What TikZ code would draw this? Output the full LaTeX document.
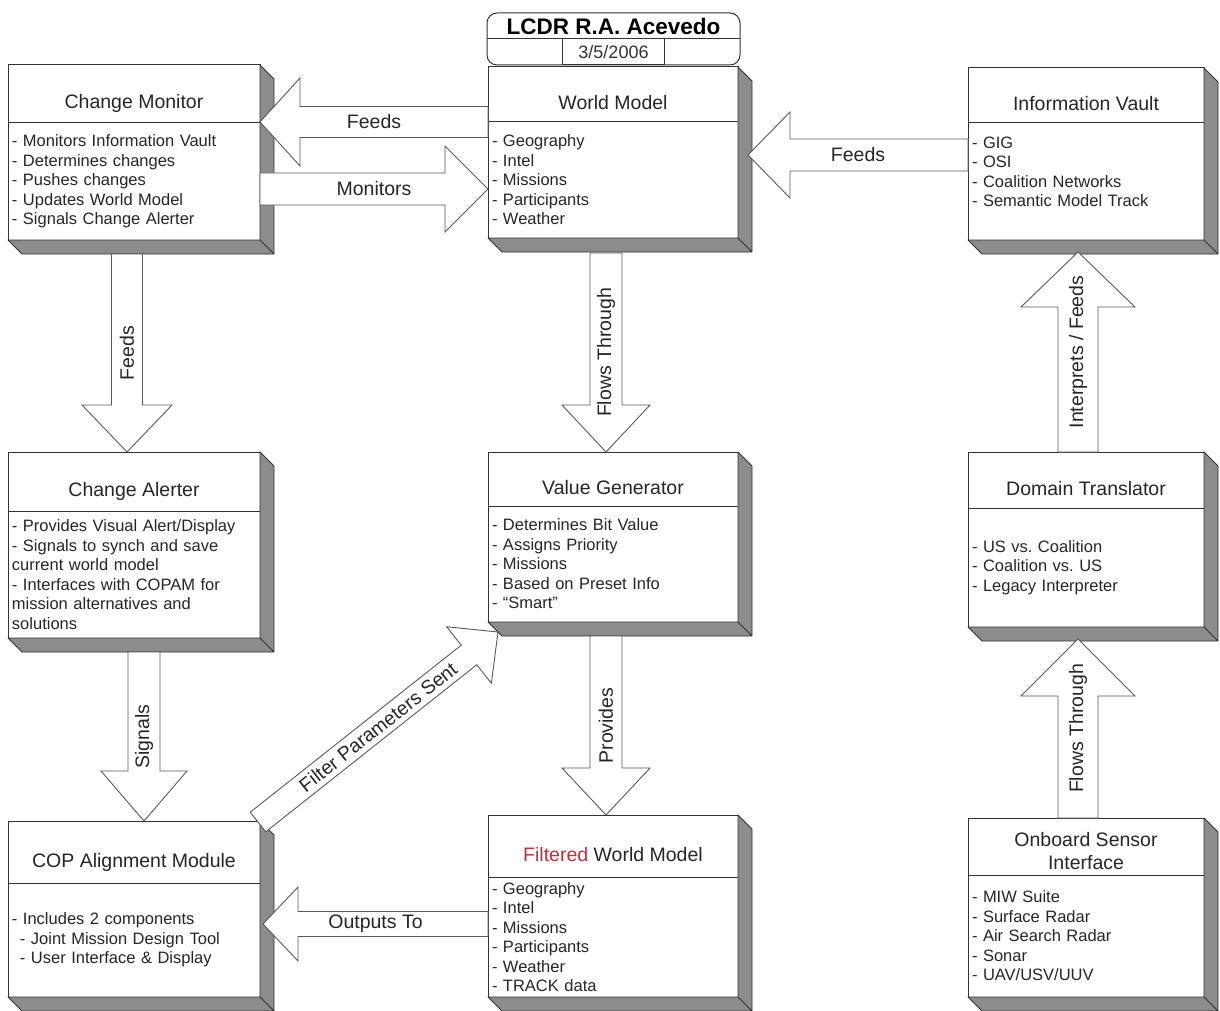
\documentclass[tikz,border=0pt]{standalone}
\usepackage{fontspec}
\setmainfont{Liberation Sans}
\usetikzlibrary{positioning,calc}
\definecolor{filtred}{RGB}{200,45,55}
\frenchspacing

\begin{document}
\begin{tikzpicture}[x=1pt,y=-1pt,
    head/.style={draw=black!80, fill=white, line width=1pt, anchor=north west, outer sep=0pt,
      inner sep=2pt, align=center, text height=30pt, text depth=0pt,
      font=\fontsize{19.5}{23}\selectfont, text=black!85},
    list/.style={draw=black!80, fill=white, line width=1pt, outer sep=0pt, inner xsep=4pt,
      inner ysep=0pt, align=left, font=\fontsize{16.5}{19.5}\selectfont, text=black!85},
    slab/.style={fill=black!45, draw=black!80, line width=0.8pt, line join=round},
    lbl/.style={font=\fontsize{19.5}{23}\selectfont, text=black!85, inner sep=0pt},
    fat/.style args={#1/#2/#3}{draw=black!65, fill=white, line width=0.9pt,
      to path={let \p1=(\tikztostart), \p2=(\tikztotarget), \n1={atan2(\y2-\y1,\x2-\x1)} in
        ($(\p1)+({\n1+90}:#1)$) -- ($(\p2)+({\n1+180}:#3)+({\n1+90}:#1)$)
        -- ($(\p2)+({\n1+180}:#3)+({\n1+90}:#2)$) -- (\p2)
        -- ($(\p2)+({\n1+180}:#3)+({\n1-90}:#2)$) -- ($(\p2)+({\n1+180}:#3)+({\n1-90}:#1)$)
        -- ($(\p1)+({\n1-90}:#1)$) -- cycle
        ($(\p1)!.5!(\p2)$) -- ($(\p1)!.5!(\p2)$) \tikztonodes}}
  ]
  \useasboundingbox[fill=white] (0,0) rectangle (1220,1011);

  \node[draw=black!80, line width=1pt, rounded corners=10pt, minimum width=253pt, minimum height=52pt,
    anchor=north west, outer sep=0pt] (stamp) at (487,13) {};
  \node[draw=black!80, line width=1pt, minimum width=102pt, minimum height=26pt, anchor=south,
    outer sep=0pt, font=\fontsize{18}{20}\selectfont, text=black!80] (date) at (stamp.south) {3/5/2006};
  \draw[black!80, line width=1pt] (stamp.west |- date.north) -- (stamp.east |- date.north);
  \node[font=\fontsize{22.5}{26}\selectfont\bfseries] (author) at ($(stamp.north)+(0,13.5)$) {LCDR R.A. Acevedo};

  \node[head, minimum width=252pt, minimum height=58pt] (cm) at (8,65) {Change Monitor};
  \node[list, below=0pt of cm, text width=244pt, minimum height=117pt] (cm-list)
    {- Monitors Information Vault\\- Determines changes\\- Pushes changes\\- Updates World Model\\- Signals Change Alerter};
  \node[head, minimum width=250pt, minimum height=55pt] (wm) at (488,67) {World Model};
  \node[list, below=0pt of wm, text width=242pt, minimum height=116pt] (wm-list)
    {- Geography\\- Intel\\- Missions\\- Participants\\- Weather};
  \node[head, minimum width=236pt, minimum height=55pt] (iv) at (968,68) {Information Vault};
  \node[list, below=0pt of iv, text width=228pt, minimum height=117pt] (iv-list)
    {- GIG\\- OSI\\- Coalition Networks\\- Semantic Model Track\\\mbox{}};

  \node[head, minimum width=252pt, minimum height=59pt] (ca) at (8,452) {Change Alerter};
  \node[list, below=0pt of ca, text width=244pt, minimum height=127pt] (ca-list)
    {- Provides Visual Alert/Display\\- Signals to synch and save\\current world model\\- Interfaces with COPAM for\\mission alternatives and\\solutions};
  \node[head, minimum width=250pt, minimum height=54pt] (vg) at (488,452) {Value Generator};
  \node[list, below=0pt of vg, text width=242pt, minimum height=116pt] (vg-list)
    {- Determines Bit Value\\- Assigns Priority\\- Missions\\- Based on Preset Info\\- “Smart”};
  \node[head, minimum width=236pt, minimum height=56pt] (dt) at (968,452) {Domain Translator};
  \node[list, below=0pt of dt, text width=228pt, minimum height=119pt] (dt-list)
    {- US vs. Coalition\\- Coalition vs. US\\- Legacy Interpreter};

  \node[head, minimum width=252pt, minimum height=62pt] (cop) at (8,821) {COP Alignment Module};
  \node[list, below=0pt of cop, text width=244pt, minimum height=114pt] (cop-list)
    {- Includes 2 components\\\hspace*{8pt}- Joint Mission Design Tool\\\hspace*{8pt}- User Interface \& Display};
  \node[head, minimum width=250pt, minimum height=62pt] (fwm) at (488,815) {\textcolor{filtred}{Filtered} World Model};
  \node[list, below=0pt of fwm, text width=242pt, minimum height=120pt] (fwm-list)
    {- Geography\\- Intel\\- Missions\\- Participants\\- Weather\\- TRACK data};
  \node[head, minimum width=236pt, minimum height=57pt, text height=46pt] (osi) at (968,818) {Onboard Sensor\\Interface};
  \node[list, below=0pt of osi, text width=228pt, minimum height=122pt] (osi-list)
    {- MIW Suite\\- Surface Radar\\- Air Search Radar\\- Sonar\\- UAV/USV/UUV};

  \foreach \b in {cm,wm,iv,ca,vg,dt,cop,fwm,osi}
    \draw[slab] (\b.north east) -- ++(14,14) -- ($(\b-list.south east)+(14,14)$)
      -- ($(\b-list.south west)+(14,14)$) -- (\b-list.south west) -- (\b-list.south east) -- cycle
      (\b-list.south east) -- ++(14,14);

  \draw[fat=15.5pt/44pt/40pt] (wm.south west) to node[lbl] {Feeds} (wm.south west -| cm.east);
  \draw[fat=16pt/43pt/43pt] ($(cm-list.east)+(0,7.5)$) to node[lbl] {Monitors} ($(wm-list.west)+(0,9)$);
  \draw[fat=16pt/43pt/42pt] ($(iv-list.west)+(0,-26.5)$) to node[lbl] {Feeds} ($(wm-list.east)+(10,-25)$);
  \draw[fat=15.5pt/45pt/47pt] ($(cm-list.south)+(-7,14)$) to node[lbl, rotate=90] {Feeds} ($(ca.north)+(-7,0)$);
  \draw[fat=16pt/44pt/47pt] ($(wm-list.south)+(-7,15)$) to node[lbl, rotate=90] {Flows Through} ($(vg.north)+(-7,0)$);
  \draw[fat=20pt/57pt/55pt] ($(dt.north)+(-8,0)$) to node[lbl, rotate=90] {Interprets / Feeds} ($(iv-list.south)+(-8,12)$);
  \draw[fat=16pt/43pt/50pt] ($(ca-list.south)+(10,14)$) to node[lbl, rotate=90] {Signals} ($(cop.north)+(10,0)$);
  \draw[fat=16pt/44pt/47pt] ($(vg-list.south)+(-7,14)$) to node[lbl, rotate=90] {Provides} ($(fwm.north)+(-7,0)$);
  \draw[fat=20pt/57pt/57pt] ($(osi.north)+(-8,0)$) to node[lbl, rotate=90] {Flows Through} ($(dt-list.south)+(-8,12)$);
  \draw[fat=12.5pt/37pt/35pt] ($(fwm-list.west)+(0,-13)$) to node[lbl] {Outputs To} ($(cop-list.east)+(3,-16)$);
  \draw[fat=12.5pt/36pt/37pt] ($(cop.north east)+(-2,1)$) to node[lbl, rotate=38.4] {Filter Parameters Sent} ($(vg-list.south west)+(10,10)$);
\end{tikzpicture}
\end{document}
